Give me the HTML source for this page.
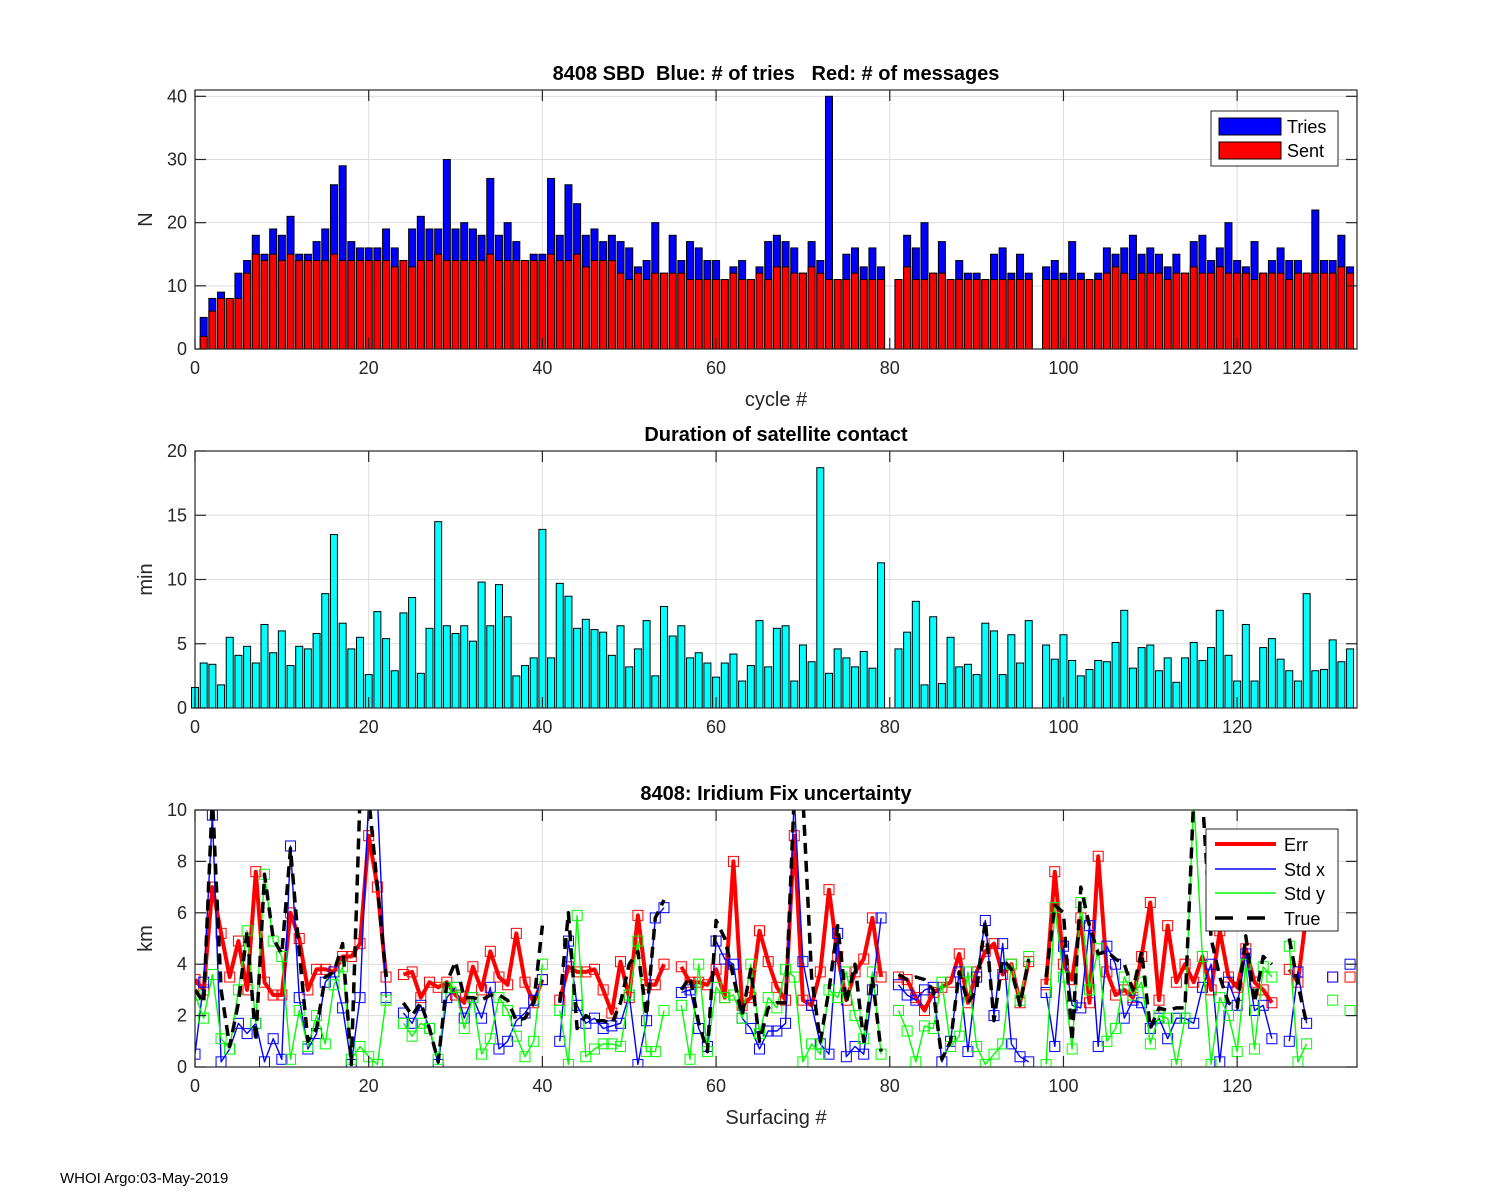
<!DOCTYPE html>
<html><head><meta charset="utf-8">
<style>
html,body{margin:0;padding:0;background:#fff;}
svg{display:block;font-family:"Liberation Sans",Arial,sans-serif;}
</style></head>
<body>
<svg id="fig" width="1500" height="1200" viewBox="0 0 1500 1200" xmlns="http://www.w3.org/2000/svg">
<defs>
<clipPath id="clip3"><rect x="195" y="810" width="1162" height="257"/></clipPath>
</defs>
<g id="top-axes"></g>
<g id="mid-axes"></g>
<g id="bot-axes"></g>
<text x="60" y="1183" font-size="15" fill="#000">WHOI Argo:03-May-2019</text>
</svg>
<script>
// ---- data: top chart (cycles 1..133) ----
const tries = [5,8,9,8,12,14,18,15,19,18, 21,15,15,17,19,26,29,17,16,16, 16,19,16,14,19,21,19,19,30,19, 20,19,18,27,18,20,17,14,15,15, 27,18,26,23,18,19,17,18,17,16, 13,14,20,12,18,14,17,16,14,14, 11,13,14,11,13,17,18,17,16,12, 17,14,40,11,15,16,13,16,13,null, 11,18,16,20,12,17,11,14,12,12, 11,15,16,12,15,12,null,13,14,12, 17,12,11,12,16,15,16,18,15,16, 15,13,15,12,17,18,14,16,20,14, 13,17,12,14,16,14,14,12,22,14, 14,18,13];
const sent = [2,6,8,8,8,12,15,14,15,14, 15,14,14,14,14,15,14,14,14,14, 14,14,13,14,13,14,14,15,14,14, 14,14,14,15,14,14,14,14,14,14, 15,14,14,15,13,14,14,14,12,11, 12,11,12,12,12,12,11,11,11,11, 11,12,11,11,12,11,13,13,12,12, 13,12,11,11,11,12,11,11,11,null, 11,13,11,11,12,12,11,11,11,11, 11,11,11,11,11,11,null,11,11,11, 11,11,11,11,12,13,12,11,12,12, 12,11,12,12,13,12,12,13,12,12, 12,11,12,12,12,11,12,12,12,12, 12,13,12];
// ---- data: middle chart (cycles 0..133) ----
const duration = [1.6,3.5,3.4,1.8,5.5,4.1,4.8,3.5,6.5,4.3, 6.0,3.3,4.8,4.6,5.8,8.9,13.5,6.6,4.6,5.5, 2.6,7.5,5.4,2.9,7.4,8.6,2.7,6.2,14.5,6.4, 5.8,6.4,5.2,9.8,6.4,9.6,7.1,2.5,3.3,3.9, 13.9,3.9,9.7,8.7,6.2,6.9,6.1,5.9,4.1,6.4, 3.2,4.6,6.8,2.5,7.9,5.6,6.4,3.9,4.3,3.5, 2.4,3.5,4.2,2.1,3.3,6.8,3.2,6.2,6.4,2.1, 4.9,3.6,18.7,2.7,4.6,3.9,3.2,4.4,3.1,11.3, null,4.6,5.9,8.3,1.8,7.1,1.9,5.5,3.2,3.4, 2.6,6.6,6.0,2.6,5.7,3.5,6.8,null,4.9,3.8, 5.7,3.7,2.5,3.0,3.7,3.6,5.1,7.6,3.1,4.7, 4.9,2.9,3.9,2.0,3.9,5.1,3.7,4.7,7.6,4.1, 2.1,6.5,2.1,4.7,5.4,3.8,2.9,2.1,8.9,2.9, 3.0,5.3,3.6,4.6];
// ---- data: bottom chart (surfacing 0..133) ----
const errKm = [3.4,3.0,7.0,5.2,3.5,4.9,3.0,7.6,3.3,2.8, 2.8,6.0,5.0,3.0,3.8,3.8,3.7,4.3,4.3,4.8, 9.0,7.0,3.5,null,3.6,3.7,2.7,3.3,3.1,3.3, 2.8,2.5,3.9,3.0,4.5,3.5,3.2,5.2,3.3,2.5, 3.4,null,2.6,3.9,3.7,3.7,3.8,3.0,2.1,4.1, 2.7,5.9,3.2,3.2,4.0,null,3.9,3.3,3.3,3.2, 3.8,2.7,8.0,2.4,2.7,5.3,4.1,3.1,2.6,9.0, 2.6,2.4,3.7,6.9,4.3,2.6,3.7,4.2,5.8,3.5, null,3.5,3.4,2.7,2.2,2.9,3.1,3.3,4.4,2.5, 3.7,4.5,4.8,3.6,4.0,2.5,4.1,null,3.2,7.6, 4.0,3.4,5.8,2.5,8.2,3.7,2.8,3.0,2.7,4.3, 6.4,2.6,5.5,3.3,4.0,3.3,4.3,3.0,5.3,3.5, 3.1,4.6,3.3,3.0,2.5,null,3.8,3.3,6.0,null, null,3.5,null,3.5];
const stdX = [0.5,3.3,9.8,0.2,0.7,1.7,1.3,1.7,0.2,1.1, 0.3,8.6,2.7,0.7,1.3,3.3,3.7,2.3,0.1,2.7, 10.5,10.5,2.7,null,2.1,1.7,2.4,1.5,0.1,2.7, 3.1,1.9,2.7,1.9,3.1,0.7,1.0,1.8,2.1,2.6, 3.4,null,1.0,4.9,2.4,1.7,1.9,1.5,1.6,1.7, 2.8,0.1,1.8,5.8,6.2,null,2.9,3.0,1.5,0.8, 4.9,4.2,4.0,1.9,1.5,0.7,1.4,1.4,1.7,10.5, 4.1,2.4,0.9,0.5,5.2,0.4,0.8,0.5,3.0,5.8, null,3.2,2.8,2.6,3.0,3.1,0.2,1.0,3.7,0.6, 3.5,5.7,2.0,4.8,0.9,0.4,0.2,null,2.9,0.8, 4.7,2.4,2.3,5.5,0.8,4.7,4.0,1.9,2.6,2.5, 1.5,1.9,1.1,1.9,1.9,1.7,3.1,4.0,0.2,3.3, 2.4,4.4,2.2,2.4,1.1,null,1.0,3.7,1.7,null, null,3.5,null,4.0];
const stdY = [2.8,1.9,3.6,1.1,0.7,3.0,5.3,1.7,7.5,4.9, 4.3,0.3,2.2,0.8,2.0,0.9,3.2,3.9,0.3,0.8, 0.4,0.1,2.6,null,1.7,1.2,1.7,1.5,0.3,3.1, 3.1,1.5,2.7,0.5,1.1,2.7,2.2,1.2,0.4,1.0, 4.0,null,2.2,0.1,5.9,0.4,0.7,0.9,0.9,0.8, 2.8,4.9,0.6,0.6,2.2,null,2.4,0.3,4.0,0.6, 3.1,2.7,2.8,1.9,4.0,1.3,2.7,2.3,3.8,3.5, 0.2,0.9,0.5,3.0,2.7,3.7,2.0,1.1,3.7,0.5, null,2.2,1.4,0.2,1.6,1.5,3.3,0.8,1.2,3.7, 0.8,0.1,0.5,0.9,4.0,2.6,4.3,null,0.1,6.2, 3.5,0.7,6.4,3.0,4.6,1.0,1.5,3.5,2.8,3.3, 0.9,2.0,1.9,0.1,1.9,10.5,4.3,0.1,2.7,2.0, 0.6,4.0,0.7,3.9,3.5,null,4.7,0.2,0.9,null, null,2.6,null,2.2];
const trueKm = [3.0,2.5,10.5,3.0,0.8,2.5,5.3,1.0,7.5,5.0, 4.4,8.5,4.5,1.0,1.5,3.5,3.7,4.8,0.1,10.5, 10.5,7.0,3.5,null,2.5,2.0,2.5,1.5,0.2,3.3, 4.1,2.7,2.7,2.6,2.8,2.8,2.6,1.8,1.9,2.5, 5.5,null,2.5,6.0,1.5,2.0,1.8,1.8,1.7,2.5, 4.0,4.5,2.0,5.8,6.5,null,3.0,3.5,1.7,0.6, 5.7,5.0,3.5,2.0,3.8,1.0,2.3,2.5,2.5,10.5, 10.5,3.5,1.0,3.0,5.5,2.5,4.0,1.0,3.5,0.6, null,3.6,3.4,3.5,3.4,3.0,0.3,1.0,3.7,2.5, 3.0,5.7,1.8,4.2,3.8,2.4,4.2,null,3.5,6.3, 6.0,1.0,7.0,5.5,4.4,4.5,4.2,4.0,3.0,4.5, 1.5,2.3,2.2,2.3,2.3,10.5,10.5,5.0,3.5,2.5, 2.3,5.1,2.5,4.3,4.0,null,5.0,3.2,1.7,null, null,null,null,null];
const xTicks = [0,20,40,60,80,100,120];
const topYTicks = [0,10,20,30,40];
const midYTicks = [0,5,10,15,20];
const botYTicks = [0,2,4,6,8,10];

const NS = "http://www.w3.org/2000/svg";
const X0 = 195, X1 = 1357, XMAX = 133.8;
function sx(v){ return X0 + v * (X1 - X0) / XMAX; }
function mk(tag, attrs, parent){ const e = document.createElementNS(NS, tag); for (const k in attrs) e.setAttribute(k, attrs[k]); parent.appendChild(e); return e; }

function axes(g, top, bot, ymax, yticks, key){
  const sy = v => bot - v * (bot - top) / ymax;
  for (const t of xTicks){ const l = mk('line',{x1:sx(t),x2:sx(t),y1:top,y2:bot,stroke:'#dcdcdc','stroke-width':1},g);
    
     }
  for (const t of yticks){ const l = mk('line',{x1:X0,x2:X1,y1:sy(t),y2:sy(t),stroke:'#dcdcdc','stroke-width':1},g);
    
     }
  return sy;
}
function frame(g, top, bot, ymax, yticks, title, ylabel, xlabel, key, ty){
  const sy = v => bot - v * (bot - top) / ymax;
  const r = mk('rect',{x:X0,y:top,width:X1-X0,height:bot-top,fill:'none',stroke:'#262626','stroke-width':1.2},g);
  
  
  for (const t of xTicks){
    mk('line',{x1:sx(t),x2:sx(t),y1:bot,y2:bot-11,stroke:'#262626','stroke-width':1.2},g);
    mk('line',{x1:sx(t),x2:sx(t),y1:top,y2:top+11,stroke:'#262626','stroke-width':1.2},g);
    const tx = mk('text',{x:sx(t),y:bot+25,'text-anchor':'middle','font-size':18,fill:'#262626'},g);
    tx.textContent = t;
    
    
  }
  for (const t of yticks){
    mk('line',{x1:X0,x2:X0+11,y1:sy(t),y2:sy(t),stroke:'#262626','stroke-width':1.2},g);
    mk('line',{x1:X1,x2:X1-11,y1:sy(t),y2:sy(t),stroke:'#262626','stroke-width':1.2},g);
    const tx = mk('text',{x:X0-8,y:sy(t)+6,'text-anchor':'end','font-size':18,fill:'#262626'},g);
    tx.textContent = t;
    
    
  }
  const tt = mk('text',{x:776,y:ty,'text-anchor':'middle','font-size':20,'font-weight':'bold',fill:'#000',style:'white-space:pre'},g);
  tt.textContent = title;
  
  
  const yc = (top+bot)/2;
  const yl = mk('text',{x:152,y:yc,'text-anchor':'middle','font-size':20,fill:'#262626',transform:'rotate(-90 152 '+yc+')'},g);
  yl.textContent = ylabel;
  
  
  if (xlabel){
    const xl = mk('text',{x:776,y:bot+57,'text-anchor':'middle','font-size':20,fill:'#262626'},g);
    xl.textContent = xlabel;
    
    
  }
}

// ---------- top chart ----------
(function(){
  const g = document.getElementById('top-axes');
  const top = 90, bot = 349, ymax = 41;
  const sy = axes(g, top, bot, ymax, topYTicks, 'top');
  const w = 7.0;
  tries.forEach((v,i)=>{ if (v==null) return; const c = i+1;
    const b = mk('rect',{x:sx(c)-w/2,y:sy(v),width:w,height:sy(0)-sy(v),fill:'#0000ff',stroke:'#000','stroke-width':1},g);
    
     });
  sent.forEach((v,i)=>{ if (v==null) return; const c = i+1;
    const b = mk('rect',{x:sx(c)-w/2,y:sy(v),width:w,height:sy(0)-sy(v),fill:'#ff0000',stroke:'#000','stroke-width':1},g);
    
     });
  frame(g, top, bot, ymax, topYTicks, '8408 SBD  Blue: # of tries   Red: # of messages', 'N', 'cycle #', 'top', 80);
  const lg = mk('g',{},g);
  
  
  mk('rect',{x:1211,y:111,width:127,height:55,fill:'#fff',stroke:'#262626','stroke-width':1},lg);
  mk('rect',{x:1219,y:118,width:62,height:17,fill:'#0000ff',stroke:'#000','stroke-width':1},lg);
  mk('rect',{x:1219,y:142,width:62,height:17,fill:'#ff0000',stroke:'#000','stroke-width':1},lg);
  const t1 = mk('text',{x:1287,y:133,'font-size':18,fill:'#000'},lg); t1.textContent='Tries';
  
  
  const t2 = mk('text',{x:1287,y:157,'font-size':18,fill:'#000'},lg); t2.textContent='Sent';
  
  
})();

// ---------- middle chart ----------
(function(){
  const g = document.getElementById('mid-axes');
  const top = 451, bot = 708, ymax = 20;
  const sy = axes(g, top, bot, ymax, midYTicks, 'mid');
  const w = 7.0;
  duration.forEach((v,i)=>{ if (v==null) return;
    const b = mk('rect',{x:sx(i)-w/2,y:sy(v),width:w,height:sy(0)-sy(v),fill:'#00ffff',stroke:'#000','stroke-width':1},g);
    
     });
  frame(g, top, bot, ymax, midYTicks, 'Duration of satellite contact', 'min', '', 'mid', 441);
})();

// ---------- bottom chart ----------
(function(){
  const g = document.getElementById('bot-axes');
  const top = 810, bot = 1067, ymax = 10;
  const sy = axes(g, top, bot, ymax, botYTicks, 'bot');
  const cg = mk('g',{'clip-path':'url(#clip3)'},g);
  function pathOf(arr){ let d=''; let pen=false;
    arr.forEach((v,i)=>{ if (v==null){ pen=false; return; } d += (pen?'L':'M') + sx(i).toFixed(1) + ' ' + sy(v).toFixed(1) + ' '; pen=true; });
    return d; }
  function series(arr, color, width, name, dash, markers){
    const p = mk('path',{d:pathOf(arr),fill:'none',stroke:color,'stroke-width':width,'stroke-linejoin':'round'},cg);
    if (dash) p.setAttribute('stroke-dasharray', dash);
    
    
    if (markers){ arr.forEach((v,i)=>{ if (v==null) return;
      const m = mk('rect',{x:sx(i)-5,y:sy(v)-5,width:10,height:10,fill:'none',stroke:color,'stroke-width':1},cg);
      
       }); }
  }
  series(errKm, '#ff0000', 4, 'err', null, true);
  series(stdX, '#0000ff', 1.4, 'std-x', null, true);
  series(stdY, '#00ff00', 1.4, 'std-y', null, true);
  series(trueKm, '#000000', 3.5, 'true', '11,7', false);
  frame(g, top, bot, ymax, botYTicks, '8408: Iridium Fix uncertainty', 'km', 'Surfacing #', 'bot', 800);
  const lg = mk('g',{},g);
  
  
  mk('rect',{x:1206,y:829,width:132,height:102,fill:'#fff',stroke:'#262626','stroke-width':1},lg);
  const items = [['Err','#ff0000',4,null,844],['Std x','#0000ff',1.4,null,869],['Std y','#00ff00',1.4,null,893],['True','#000',3.5,'18,14',918]];
  items.forEach(it=>{
    const l = mk('line',{x1:1215,x2:1276,y1:it[4],y2:it[4],stroke:it[1],'stroke-width':it[2]},lg);
    if (it[3]) l.setAttribute('stroke-dasharray', it[3]);
    const t = mk('text',{x:1284,y:it[4]+7,'font-size':18,fill:'#000'},lg); t.textContent = it[0];
    
    
  });
})();
</script>
</body></html>
